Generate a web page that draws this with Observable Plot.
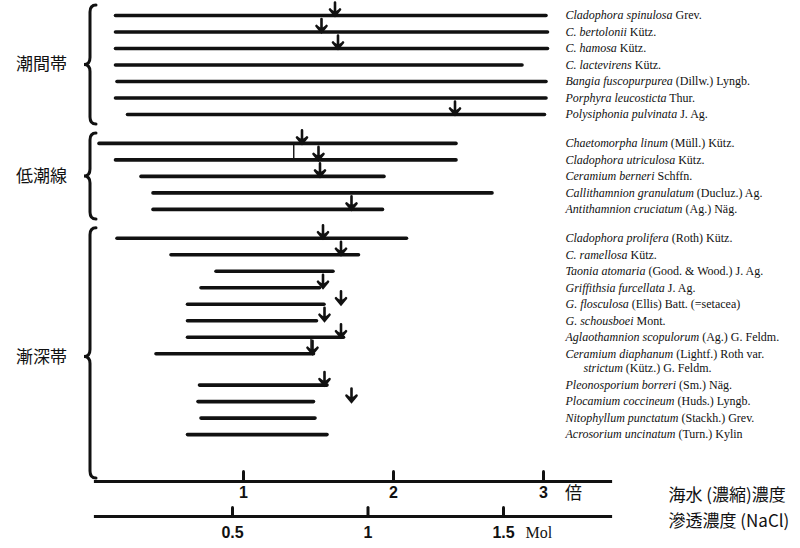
<!DOCTYPE html>
<html><head><meta charset="utf-8">
<script src="https://cdn.jsdelivr.net/npm/d3@7"></script>
<script src="https://cdn.jsdelivr.net/npm/@observablehq/plot@0.6"></script>
<style>
html,body{margin:0;padding:0;background:#fff;}
#chart svg{display:block;}
</style></head><body><div id="chart"></div>
<script>
// ---- data ----
const groups = ["潮間帯", "低潮線", "漸深帯"];
const species = [
  "Cladophora spinulosa", "C. bertolonii", "C. hamosa", "C. lactevirens",
  "Bangia fuscopurpurea", "Porphyra leucosticta", "Polysiphonia pulvinata",
  "Chaetomorpha linum", "Cladophora utriculosa", "Ceramium berneri",
  "Callithamnion granulatum", "Antithamnion cruciatum",
  "Cladophora prolifera", "C. ramellosa", "Taonia atomaria",
  "Griffithsia furcellata", "G. flosculosa", "G. schousboei",
  "Aglaothamnion scopulorum", "Ceramium diaphanum", "Pleonosporium borreri",
  "Plocamium coccineum", "Nitophyllum punctatum", "Acrosorium uncinatum"
];
const authors = [
  "Grev.", "Kütz.", "Kütz.", "Kütz.",
  "(Dillw.) Lyngb.", "Thur.", "J. Ag.",
  "(Müll.) Kütz.", "Kütz.", "Schffn.",
  "(Ducluz.) Ag.", "(Ag.) Näg.",
  "(Roth) Kütz.", "Kütz.", "(Good. & Wood.) J. Ag.",
  "J. Ag.", "(Ellis) Batt. (=setacea)", "Mont.",
  "(Ag.) G. Feldm.", "(Lightf.) Roth var.", "(Sm.) Näg.",
  "(Huds.) Lyngb.", "(Stackh.) Grev.", "(Turn.) Kylin"
];
const groupIndex = [0,0,0,0,0,0,0, 1,1,1,1,1, 2,2,2,2,2,2,2,2,2,2,2,2];
// tolerated range, in multiples of sea-water concentration
const low  = [0.15,0.15,0.15,0.15,0.16,0.15,0.23, 0.04,0.15,0.32,0.40,0.40,
              0.16,0.52,0.82,0.72,0.63,0.63,0.63,0.42,0.71,0.70,0.72,0.63];
const high = [3.02,3.03,3.03,2.86,3.02,3.02,3.01, 2.42,2.42,1.94,2.66,1.93,
              2.09,1.77,1.60,1.51,1.54,1.49,1.67,1.47,1.56,1.47,1.48,1.56];
// optimum (arrow), null = none
const optimum = [1.61,1.52,1.63,null,null,null,2.41, 1.39,1.50,1.51,null,1.72,
                 1.53,1.65,null,1.53,1.65,1.54,1.65,1.46,1.54,1.72,null,null];
// label continuation lines
const continuation = [{species: "Ceramium diaphanum", name: "strictum", author: "(Kütz.) G. Feldm."}];
// thin connectors between neighbouring rows
const connectors = [{species: "Chaetomorpha linum", value: 1.335}, {species: "Aglaothamnion scopulorum", value: 1.45}];
// axis ticks
const seaTicks = [1, 2, 3];
const seaUnit = "倍";
const seaTitle = "海水 (濃縮)濃度";
const molTicks = [0.5, 1, 1.5];
const molLabels = ["0.5", "1", "1.5"];
const molUnit = "Mol";
const molTitle = "滲透濃度 (NaCl)";

// ---- layout of rows ----
const GAP = 0.75, EXTRA = 0.9;
const rows = [];
let s = 0;
species.forEach((sp, i) => {
  if (i > 0) {
    s += 1;
    if (groupIndex[i] !== groupIndex[i - 1]) s += GAP;
    else if (continuation.some(c => c.species === species[i - 1])) s += EXTRA;
  }
  rows.push({species: sp, author: authors[i], group: groupIndex[i], lo: low[i], hi: high[i], opt: optimum[i], slot: s});
});
const maxSlot = s;
const slotOf = Object.fromEntries(rows.map(r => [r.species, r.slot]));
const contRows = continuation.map(c => ({...c, slot: slotOf[c.species]}));
const connRows = connectors.map(c => {
  const i = species.indexOf(c.species);
  return {value: c.value, y1: rows[i].slot, y2: rows[i + 1].slot};
});
const groupRows = groups.map((g, k) => {
  const rs = rows.filter(r => r.group === k);
  return {name: g, first: rs[0].slot, last: rs[rs.length - 1].slot, last_group: k === groups.length - 1};
});

const INK = "#111";
const serif = "Liberation Serif, Times New Roman, serif";
const cjk = "Noto Sans CJK JP, sans-serif";
const tickShape = {draw(ctx, l) { ctx.moveTo(0, 0); ctx.lineTo(0, -l); }};
const arrowShape = {draw(ctx, l) {
  const w = 5, h = 6;
  ctx.moveTo(0, 0); ctx.lineTo(0, -l + 2);
  ctx.moveTo(-w, -l + h); ctx.lineTo(0, -l); ctx.lineTo(w, -l + h);
  ctx.moveTo(-w + 1, -l + h - 1); ctx.lineTo(0, -l + 2); ctx.lineTo(w - 1, -l + h - 1);
}};

const H = 505, MB = 24, MR = 190;
const plot = Plot.plot({
  width: 800, height: H,
  marginLeft: 95, marginRight: MR, marginTop: 0, marginBottom: MB,
  x: {domain: [1, 3], range: [243, 543], axis: null},
  y: {domain: [0, maxSlot], range: [15, 15 + 16.5 * maxSlot], axis: null},
  style: {background: "#fff", color: INK},
  marks: [
    Plot.ruleX(connRows, {x: "value", y1: "y1", y2: "y2", stroke: INK, strokeWidth: 1.4}),
    Plot.ruleY(rows, {y: "slot", x1: "lo", x2: "hi", stroke: INK, strokeWidth: 3.6, strokeLinecap: "round"}),
    Plot.vector(rows.filter(r => r.opt != null), {x: "opt", y: "slot", rotate: 180, length: 13, anchor: "end", shape: arrowShape, stroke: INK, strokeWidth: 2.6, strokeLinejoin: "miter"}),
    Plot.text(rows, {x: () => 3, y: "slot", dx: 22, text: d => d.species + " " + d.author, textAnchor: "start", fontFamily: serif, fontSize: 12, fill: INK, ariaDescription: "species"}),
    Plot.text(contRows, {x: () => 3, y: "slot", dx: 40, dy: 14, text: d => d.name + " " + d.author, textAnchor: "start", fontFamily: serif, fontSize: 12, fill: INK, ariaDescription: "species-cont"}),
    Plot.text(groupRows, {x: () => 0, y: d => d.last_group ? d.first + 7.2 : (d.first + d.last) / 2, dx: -52, text: "name", textAnchor: "middle", fontFamily: cjk, fontSize: 17, fill: INK}),
    Plot.frame({anchor: "bottom", stroke: INK, strokeWidth: 3.2}),
    Plot.vector(seaTicks, {x: d => d, frameAnchor: "bottom", anchor: "start", length: 9, shape: tickShape, stroke: INK, strokeWidth: 3, dy: -1}),
    Plot.text(seaTicks, {x: d => d, frameAnchor: "bottom", dy: 16, text: d => String(d), fontFamily: "Liberation Sans, sans-serif", fontWeight: "bold", fontSize: 16, fill: INK}),
    Plot.text([seaUnit], {x: () => 3, frameAnchor: "bottom", dx: 30, dy: 17, text: d => d, fontFamily: cjk, fontSize: 17, fill: INK}),
    Plot.text([seaTitle], {frameAnchor: "bottom-right", dx: 58, dy: 19, text: d => d, textAnchor: "start", fontFamily: cjk, fontSize: 17, fill: INK})
  ]
});

// italic species names
function italicize(svg, label, src) {
  svg.querySelectorAll(`g[aria-description="${label}"] text`).forEach((t, i) => {
    const d = src[i];
    t.textContent = "";
    const a = document.createElementNS("http://www.w3.org/2000/svg", "tspan");
    a.setAttribute("font-style", "italic");
    a.textContent = d.name;
    const b = document.createElementNS("http://www.w3.org/2000/svg", "tspan");
    b.textContent = " " + d.author;
    t.append(a, b);
  });
}
italicize(plot, "species", rows.map(r => ({name: r.species, author: r.author})));
italicize(plot, "species-cont", contRows);

// braces, placed with the plot's own scales
const ys = plot.scale("y"), xs = plot.scale("x");
const frameBottom = H - MB;
const gBr = d3.select(plot).append("g").attr("fill", "none").attr("stroke", INK).attr("stroke-width", 3).attr("stroke-linecap", "round");
groupRows.forEach(g => {
  const y0 = ys.apply(g.first) - 10;
  const y1 = g.last_group ? frameBottom - 3 : ys.apply(g.last) + 10;
  const ym = g.last_group ? ys.apply(g.first + 7.2) : (y0 + y1) / 2;
  const xsp = xs.apply(0) - 3, xe = xsp + 6, xt = xsp - 6, r = 7;
  const p = d3.path();
  p.moveTo(xe, y0);
  p.quadraticCurveTo(xsp, y0, xsp, y0 + r);
  p.lineTo(xsp, ym - r);
  p.quadraticCurveTo(xsp, ym, xt, ym);
  p.quadraticCurveTo(xsp, ym, xsp, ym + r);
  p.lineTo(xsp, y1 - r);
  p.quadraticCurveTo(xsp, y1, xe, y1);
  gBr.append("path").attr("d", p.toString());
});

// lower axis: osmotic concentration (Mol NaCl)
const molPlot = Plot.plot({
  width: 800, height: 43,
  marginLeft: 95, marginRight: MR, marginTop: 0, marginBottom: 32,
  x: {domain: [0.5, 1.5], range: [232, 503], axis: null},
  style: {background: "#fff", color: INK},
  marks: [
    Plot.frame({anchor: "bottom", stroke: INK, strokeWidth: 3.2}),
    Plot.vector(molTicks, {x: d => d, frameAnchor: "bottom", anchor: "start", length: 8, shape: tickShape, stroke: INK, strokeWidth: 3, dy: -1}),
    Plot.text(molTicks, {x: d => d, frameAnchor: "bottom", dy: 21, text: (d, i) => molLabels[i], fontFamily: "Liberation Sans, sans-serif", fontWeight: "bold", fontSize: 16, fill: INK}),
    Plot.text([molUnit], {x: () => 1.5, frameAnchor: "bottom", dx: 22, dy: 21, text: d => d, textAnchor: "start", fontFamily: serif, fontSize: 16, fill: INK}),
    Plot.text([molTitle], {frameAnchor: "bottom-right", dx: 58, dy: 10, text: d => d, textAnchor: "start", fontFamily: cjk, fontSize: 17, fill: INK})
  ]
});

document.getElementById("chart").append(plot, molPlot);
</script></body></html>
